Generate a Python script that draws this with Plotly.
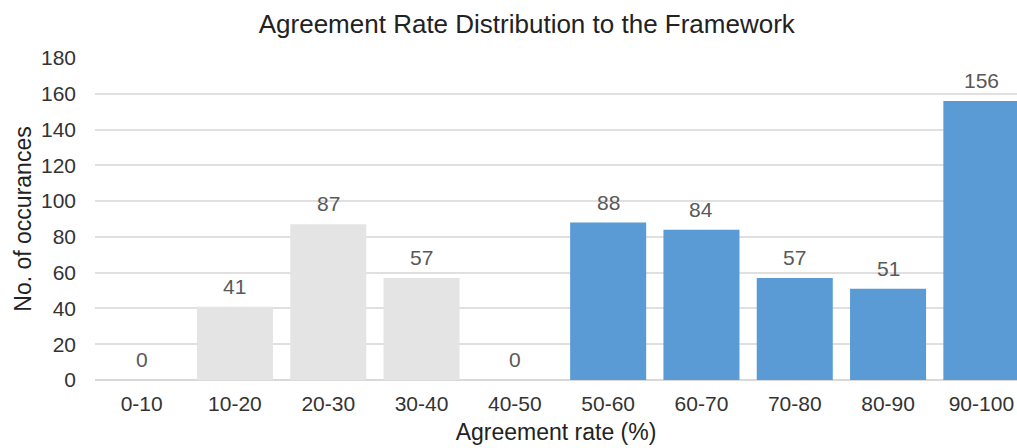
import plotly.graph_objects as go

categories = ["0-10", "10-20", "20-30", "30-40", "40-50",
              "50-60", "60-70", "70-80", "80-90", "90-100"]
occurrences = [0, 41, 87, 57, 0, 88, 84, 57, 51, 156]
bar_colors = ["#e5e4e4"] * 5 + ["#5b9bd5"] * 5

FONT = "Liberation Sans, Arial"

fig = go.Figure()
fig.add_trace(go.Bar(
    x=list(range(len(categories))),
    y=occurrences,
    marker=dict(color=bar_colors, line=dict(width=0)),
    hoverinfo="skip",
))

for i, v in enumerate(occurrences):
    fig.add_annotation(
        x=i, y=v, text=str(v), showarrow=False,
        yanchor="bottom", yshift=7,
        font=dict(family=FONT, size=21, color="#595959"),
    )

fig.update_layout(
    width=1017, height=448,
    margin=dict(l=95, r=0, t=58, b=68),
    paper_bgcolor="white", plot_bgcolor="white",
    bargap=0.185,
    showlegend=False,
    title=dict(
        text="Agreement Rate Distribution to the Framework",
        x=0.518, xanchor="center", y=0.947, yanchor="middle",
        font=dict(family=FONT, size=26, color="#222222"),
    ),
    xaxis=dict(
        tickmode="array",
        tickvals=list(range(len(categories))),
        ticktext=categories,
        range=[-0.5, 9.382],
        showgrid=False, zeroline=False, showline=False,
        ticks="", ticklabelstandoff=9, automargin=False,
        tickfont=dict(family=FONT, size=21, color="#333333"),
        title=dict(text="Agreement rate (%)", standoff=9,
                   font=dict(family=FONT, size=23, color="#222222")),
    ),
    yaxis=dict(
        range=[0, 180], dtick=20,
        showgrid=True, gridcolor="#e0e0e0", gridwidth=1.5,
        zeroline=True, zerolinecolor="#d9d9d9", zerolinewidth=1.5,
        showline=False, ticks="", ticklabelstandoff=18, automargin=False,
        tickfont=dict(family=FONT, size=21, color="#333333"),
        title=dict(text="No. of occurances", standoff=2,
                   font=dict(family=FONT, size=23, color="#222222")),
    ),
)

fig.write_html("out.html")
